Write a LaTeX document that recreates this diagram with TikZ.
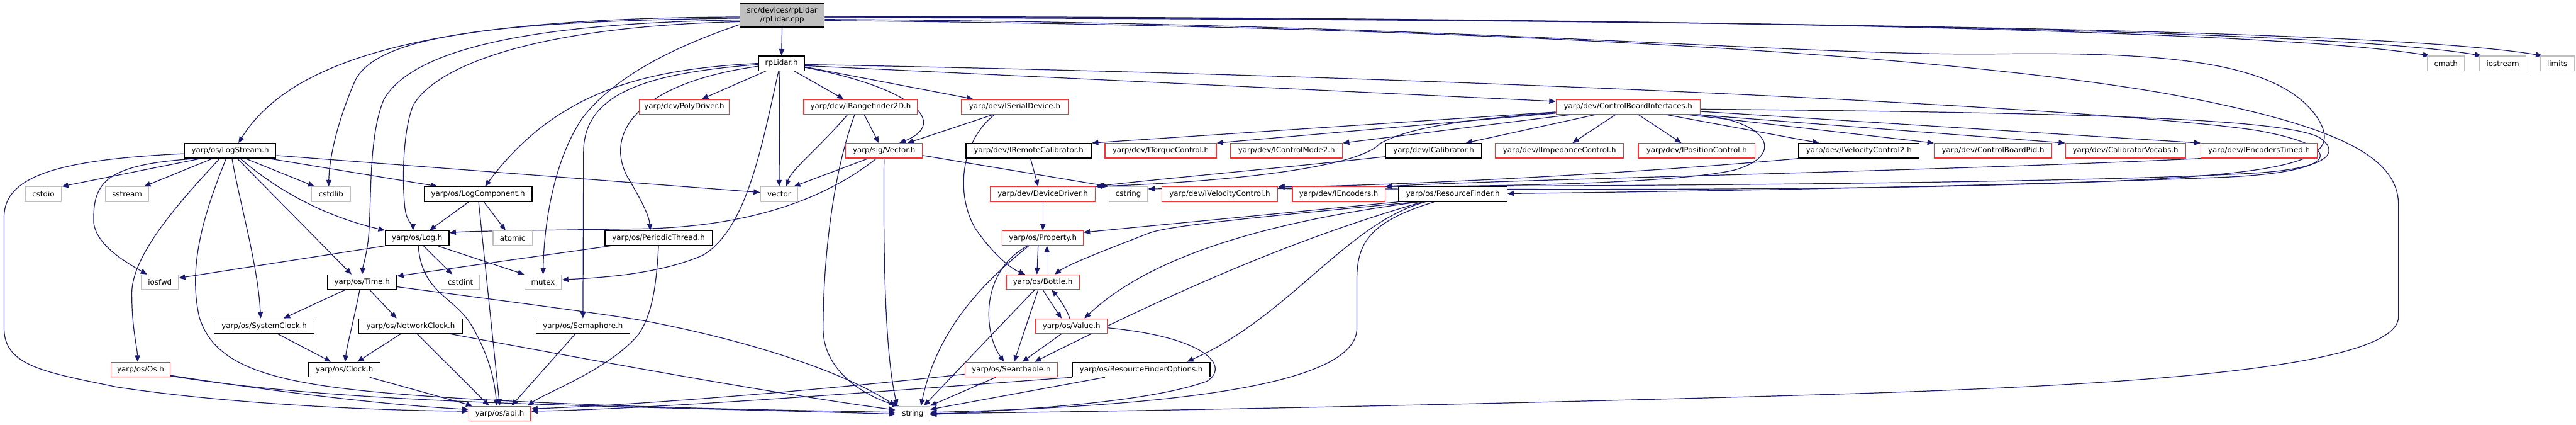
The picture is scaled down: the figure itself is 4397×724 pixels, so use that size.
\documentclass[tikz,border=0pt]{standalone}
\usepackage{fontspec}
\newfontfamily\dxfont{DejaVu Sans}
\usetikzlibrary{arrows.meta,backgrounds}
\definecolor{eblue}{HTML}{191970}
\definecolor{dred}{HTML}{FF3030}
\definecolor{dgray}{HTML}{BFBFBF}
\begin{document}
\begin{tikzpicture}[x=1pt,y=-1pt,
  nd/.style={draw, fill=white, line width=1.3pt, minimum height=25pt, inner sep=0pt,
     font=\dxfont\fontsize{12.7}{15}\selectfont},
  blk/.style={nd, draw=black, line width=1.5pt},
  rd/.style={nd, draw=dred},
  sys/.style={nd, draw=dgray},
  conn/.style={draw=eblue, line width=1.3pt, -{Triangle[length=11pt,width=9pt]}}]
\useasboundingbox (0,0) rectangle (4397,724);
% nodes
\node[blk, fill=dgray, minimum width=144pt, minimum height=40pt, align=center] (root) at (1335,26) {src/devices/rpLidar\\/rpLidar.cpp};
\node[blk, minimum width=79pt] (rplh) at (1334,108) {rpLidar.h};
\node[sys, minimum width=63pt] (cmath) at (4175,108) {cmath};
\node[sys, minimum width=80pt] (iostream) at (4272,108) {iostream};
\node[sys, minimum width=58pt] (limits) at (4365,108) {limits};
\node[rd, minimum width=154pt] (poly) at (1168,182) {yarp/dev/PolyDriver.h};
\node[rd, minimum width=194pt] (rng) at (1469,182) {yarp/dev/IRangefinder2D.h};
\node[rd, minimum width=182pt] (serial) at (1732,182) {yarp/dev/ISerialDevice.h};
\node[rd, minimum width=246pt] (cbi) at (2779,182) {yarp/dev/ControlBoardInterfaces.h};
\node[blk, minimum width=156pt] (logstream) at (393,257) {yarp/os/LogStream.h};
\node[rd, minimum width=131pt] (vec) at (1509,257) {yarp/sig/Vector.h};
\node[blk, minimum width=214pt] (remcal) at (1756,257) {yarp/dev/IRemoteCalibrator.h};
\node[rd, minimum width=190pt] (torque) at (1981,257) {yarp/dev/ITorqueControl.h};
\node[rd, minimum width=191pt] (cmode) at (2196,257) {yarp/dev/IControlMode2.h};
\node[blk, minimum width=163pt] (calib) at (2447,257) {yarp/dev/ICalibrator.h};
\node[rd, minimum width=219pt] (imped) at (2662,257) {yarp/dev/IImpedanceControl.h};
\node[rd, minimum width=199pt] (posc) at (2896,257) {yarp/dev/IPositionControl.h};
\node[blk, minimum width=206pt] (vel2) at (3173,257) {yarp/dev/IVelocityControl2.h};
\node[rd, minimum width=201pt] (pid) at (3402,257) {yarp/dev/ControlBoardPid.h};
\node[rd, minimum width=205pt] (vocabs) at (3628,257) {yarp/dev/CalibratorVocabs.h};
\node[rd, minimum width=198pt] (enct) at (3856,257) {yarp/dev/IEncodersTimed.h};
\node[sys, minimum width=62pt] (cstdio) at (74,331) {cstdio};
\node[sys, minimum width=74pt] (sstream) at (217,331) {sstream};
\node[sys, minimum width=66pt] (cstdlib) at (565,331) {cstdlib};
\node[blk, minimum width=184pt] (logcomp) at (816,331) {yarp/os/LogComponent.h};
\node[sys, minimum width=64pt] (vector) at (1330,331) {vector};
\node[rd, minimum width=179pt] (devdrv) at (1780,331) {yarp/dev/DeviceDriver.h};
\node[sys, minimum width=66pt] (cstring) at (1926,331) {cstring};
\node[rd, minimum width=198pt] (velc) at (2082,331) {yarp/dev/IVelocityControl.h};
\node[rd, minimum width=158pt] (enc) at (2285,331) {yarp/dev/IEncoders.h};
\node[blk, minimum width=185pt] (rf) at (2480,331) {yarp/os/ResourceFinder.h};
\node[blk, minimum width=109pt] (log) at (712,406) {yarp/os/Log.h};
\node[sys, minimum width=67pt] (atomic) at (875,406) {atomic};
\node[blk, minimum width=183pt] (pthread) at (1124,406) {yarp/os/PeriodicThread.h};
\node[rd, minimum width=138pt] (prop) at (1780,406) {yarp/os/Property.h};
\node[sys, minimum width=63pt] (iosfwd) at (273,481) {iosfwd};
\node[blk, minimum width=118pt] (time) at (618,481) {yarp/os/Time.h};
\node[sys, minimum width=66pt] (cstdint) at (786,481) {cstdint};
\node[sys, minimum width=63pt] (mutex) at (927,481) {mutex};
\node[rd, minimum width=125pt] (bottle) at (1780,481) {yarp/os/Bottle.h};
\node[blk, minimum width=171pt] (sysclk) at (451,556) {yarp/os/SystemClock.h};
\node[blk, minimum width=177pt] (netclk) at (701,556) {yarp/os/NetworkClock.h};
\node[blk, minimum width=160pt] (sema) at (995,556) {yarp/os/Semaphore.h};
\node[rd, minimum width=122pt] (value) at (1829,556) {yarp/os/Value.h};
\node[rd, minimum width=101pt] (os) at (240,630) {yarp/os/Os.h};
\node[blk, minimum width=122pt] (clock) at (588,630) {yarp/os/Clock.h};
\node[rd, minimum width=158pt] (search) at (1726,630) {yarp/os/Searchable.h};
\node[blk, minimum width=235pt] (rfo) at (1948,630) {yarp/os/ResourceFinderOptions.h};
\node[rd, minimum width=106pt] (api) at (853,705) {yarp/os/api.h};
\node[sys, minimum width=58pt] (string) at (1558,705) {string};
\begin{scope}[on background layer]
\fill[white] (0,0) rectangle (4397,724);
% root
\draw[conn] (root.south) -- (rplh.north);
\draw[conn] ([yshift=-3pt]root.west) .. controls (750,30) and (500,95) .. ([xshift=14pt]logstream.north);
\draw[conn] ([yshift=-5pt]root.west) .. controls (850,36) and (640,60) .. (605,140) .. controls (575,210) and (562,270) .. ([xshift=-4pt]cstdlib.north);
\draw[conn] ([yshift=-8pt]root.west) .. controls (880,40) and (700,90) .. (655,170) .. controls (630,230) and (634,330) .. (630,390) .. controls (628,430) and (620,450) .. (time.north);
\draw[conn] ([yshift=-11pt]root.west) .. controls (920,45) and (745,110) .. (705,180) .. controls (685,230) and (687,330) .. (692,360) .. controls (696,380) and (705,385) .. ([xshift=-7pt]log.north);
\draw[conn] ([yshift=-16pt]root.west) .. controls (1150,80) and (1050,130) .. (995,200) .. controls (940,280) and (928,400) .. (mutex.north);
\draw[conn] ([yshift=-2pt]root.east) .. controls (3000,30) and (3900,55) .. ([xshift=4pt]cmath.north west);
\draw[conn] ([yshift=-3pt]root.east) .. controls (3100,32) and (4000,55) .. ([xshift=4pt]iostream.north west);
\draw[conn] ([yshift=-4pt]root.east) .. controls (3200,34) and (4100,55) .. ([xshift=4pt]limits.north west);
\draw[conn] ([yshift=-7pt]root.east) .. controls (2500,40) and (3050,95) .. (3400,92) .. controls (3700,88) and (3890,105) .. (3955,200) .. controls (4010,285) and (3900,305) .. (3300,318) .. controls (2800,327) and (2300,320) .. (cstring.15);
\draw[conn] ([yshift=-9pt]root.east) .. controls (2500,45) and (3300,90) .. (3700,160) .. controls (4000,215) and (4094,270) .. (4094,350) -- (4094,540) .. controls (4094,640) and (3500,662) .. (3000,676) .. controls (2500,690) and (1900,702) .. (string.east);
% rpLidar.h
\draw[conn] (rplh.west) .. controls (1100,118) and (950,155) .. ([xshift=12pt]logcomp.north);
\draw[conn] ([yshift=-2pt]rplh.west) .. controls (1100,125) and (996,160) .. (996,260) -- (sema.north);
\draw[conn] ([yshift=-5pt]rplh.west) .. controls (1100,140) and (1030,220) .. (1070,300) .. controls (1100,350) and (1108,370) .. ([xshift=-14pt]pthread.north);
\draw[conn] ([xshift=-27pt]rplh.south) -- ([xshift=30pt]poly.north);
\draw[conn] ([xshift=-3pt]rplh.south) -- (vector.north);
\draw[conn] ([xshift=-5pt]rplh.south) .. controls (1300,250) and (1275,390) .. (1200,435) .. controls (1120,470) and (1010,474) .. ([yshift=4pt]mutex.east);
\draw[conn] ([xshift=22pt]rplh.south) -- ([xshift=-29pt]rng.north);
\draw[conn] ([yshift=-7pt]rplh.east) .. controls (1560,150) and (1620,210) .. ([xshift=26pt]vec.north);
\draw[conn] ([yshift=-6pt]rplh.east) -- ([xshift=-71pt]serial.north);
\draw[conn] ([yshift=-4pt]rplh.east) -- ([yshift=-4pt]cbi.north west);
\draw[conn] ([yshift=-2pt]rplh.east) .. controls (2500,130) and (3600,185) .. (3850,222) .. controls (4000,248) and (4010,292) .. (3800,302) .. controls (3400,318) and (2900,326) .. ([yshift=1pt]rf.east);
% IRangefinder2D
\draw[conn] ([xshift=-22pt]rng.south) .. controls (1400,250) and (1350,290) .. ([xshift=12pt]vector.north);
\draw[conn] ([xshift=-10pt]rng.south) .. controls (1420,300) and (1405,450) .. (1405,560) .. controls (1405,640) and (1490,680) .. ([xshift=6pt]string.north west);
\draw[conn] ([xshift=6pt]rng.south) -- ([xshift=-9pt]vec.north);
% ISerialDevice
\draw[conn] ([xshift=-36pt]serial.south) -- ([xshift=40pt]vec.north);
\draw[conn] ([xshift=-34pt]serial.south) .. controls (1640,240) and (1630,330) .. (1665,390) .. controls (1700,440) and (1730,460) .. ([xshift=-30pt]bottle.north);
% Vector.h
\draw[conn] ([xshift=-27pt]vec.south) -- ([xshift=25pt]vector.north);
\draw[conn] ([xshift=-13pt]vec.south) .. controls (1420,330) and (1300,385) .. (1100,390) .. controls (900,393) and (800,394) .. ([yshift=9pt]log.east);
\draw[conn] (vec.south) .. controls (1507,500) and (1515,620) .. ([xshift=3pt]string.north west);
\draw[conn] ([yshift=-8pt]vec.east) -- (cstring.north west);
% calibrators
\draw[conn] ([xshift=3pt]remcal.south) -- ([xshift=-8pt]devdrv.north);
\draw[conn] ([yshift=-10pt]calib.west) .. controls (2200,285) and (1950,308) .. (devdrv.north east);
% ControlBoardInterfaces
\draw[conn] ([yshift=-10pt]cbi.west) .. controls (2480,205) and (2400,220) .. (2355,245) .. controls (2320,285) and (2100,310) .. (devdrv.north east);
\draw[conn] ([yshift=-9pt]cbi.west) -- (remcal.north east);
\draw[conn] ([yshift=-11pt]cbi.west) -- (torque.north east);
\draw[conn] ([xshift=28pt]cbi.south west) -- (cmode.north east);
\draw[conn] ([xshift=-54pt]cbi.south) -- ([xshift=55pt]calib.north);
\draw[conn] ([xshift=-21pt]cbi.south) -- ([xshift=22pt]imped.north);
\draw[conn] ([xshift=17pt]cbi.south) -- ([xshift=-26pt]posc.north);
\draw[conn] ([xshift=63pt]cbi.south) -- ([xshift=-68pt]vel2.north);
\draw[conn] ([xshift=98pt]cbi.south) -- (pid.north west);
\draw[conn] ([xshift=-11pt]cbi.south east) -- (vocabs.north west);
\draw[conn] ([yshift=-8pt]cbi.east) -- (enct.north west);
\draw[conn] ([yshift=-4pt]cbi.east) .. controls (3500,192) and (3900,200) .. (3960,235) .. controls (3995,260) and (3975,287) .. (3850,295) .. controls (3600,310) and (2900,318) .. (velc.north east);
\draw[conn] ([xshift=116pt]cbi.south) .. controls (3020,205) and (3050,265) .. (2960,290) .. controls (2850,315) and (2500,318) .. (enc.north east);
\draw[conn] (vel2.south west) .. controls (2800,295) and (2400,316) .. ([yshift=-1pt]velc.north east);
\draw[conn] (enct.south west) .. controls (3300,292) and (2600,305) .. (enc.north east);
% ResourceFinder
\draw[conn] (rf.south west) -- (prop.8);
\draw[conn] ([xshift=-63pt]rf.south) .. controls (2150,370) and (1990,385) .. (1960,398) .. controls (1890,425) and (1825,450) .. ([xshift=20pt]bottle.north);
\draw[conn] ([xshift=-58pt]rf.south) .. controls (2150,380) and (1960,440) .. ([xshift=22pt]value.north);
\draw[conn] ([xshift=-52pt]rf.south) .. controls (2200,410) and (2000,500) .. ([xshift=40pt]search.north);
\draw[conn] ([xshift=-47pt]rf.south) .. controls (2300,380) and (2200,540) .. ([xshift=78pt]rfo.north);
\draw[conn] ([xshift=-32pt]rf.south) .. controls (2330,380) and (2316,420) .. (2316,480) -- (2316,560) .. controls (2316,640) and (2100,690) .. ([yshift=2pt]string.east);
% DeviceDriver
\draw[conn] (devdrv.south) -- (prop.north);
% Property
\draw[conn] ([xshift=-8pt]prop.south) -- ([xshift=-10pt]bottle.north);
\draw[conn] ([xshift=7pt]bottle.north) -- ([xshift=7pt]prop.south);
\draw[conn] ([xshift=-24pt]prop.south) .. controls (1680,480) and (1600,560) .. ([xshift=14pt]string.north);
\draw[conn] ([xshift=-26pt]prop.south) .. controls (1670,465) and (1680,570) .. ([xshift=-12pt]search.north);
% Bottle
\draw[conn] (bottle.south) .. controls (1790,510) and (1800,525) .. ([xshift=-17pt]value.north);
\draw[conn] ([xshift=-3pt]value.north) .. controls (1820,525) and (1805,505) .. ([xshift=15pt]bottle.south);
\draw[conn] ([xshift=-8pt]bottle.south) -- ([xshift=5pt]search.north);
\draw[conn] ([xshift=-14pt]bottle.south) -- ([xshift=19pt]string.north);
% Value
\draw[conn] ([xshift=-17pt]value.south) -- ([xshift=19pt]search.north);
\draw[conn] ([yshift=-3pt]value.east) .. controls (2060,575) and (2100,625) .. (2060,650) .. controls (1950,690) and (1700,700) .. ([yshift=-2pt]string.east);
% Searchable
\draw[conn] ([xshift=-26pt]search.south) -- (string.north east);
\draw[conn] ([yshift=-8pt]search.west) .. controls (1400,665) and (1100,690) .. ([yshift=8pt]api.east);
% ResourceFinderOptions
\draw[conn] ([xshift=-62pt]rfo.south) -- ([yshift=7pt]string.east);
\draw[conn] (rfo.south west) .. controls (1500,668) and (1100,698) .. ([yshift=4pt]api.east);
% LogStream
\draw[conn] ([yshift=-5pt]logstream.west) .. controls (100,272) and (7,300) .. (7,370) -- (7,560) .. controls (7,625) and (80,635) .. (200,660) .. controls (400,690) and (650,700) .. ([yshift=4pt]api.west);
\draw[conn] ([xshift=-56pt]logstream.south) .. controls (180,280) and (158,310) .. (160,380) .. controls (165,420) and (220,450) .. ([xshift=-22pt]iosfwd.north);
\draw[conn] ([xshift=-50pt]logstream.south) -- (cstdio.north east);
\draw[conn] ([xshift=-30pt]logstream.south) -- ([xshift=29pt]sstream.north);
\draw[conn] ([xshift=-18pt]logstream.south) .. controls (320,330) and (225,430) .. (225,500) .. controls (225,560) and (234,590) .. ([xshift=-5pt]os.north);
\draw[conn] ([xshift=-7pt]logstream.south) .. controls (350,360) and (320,450) .. (340,540) .. controls (370,640) and (500,662) .. (800,680) .. controls (1100,697) and (1400,700) .. ([yshift=2pt]string.west);
\draw[conn] ([xshift=3pt]logstream.south) .. controls (410,350) and (440,450) .. ([xshift=-6pt]sysclk.north);
\draw[conn] ([xshift=12pt]logstream.south) -- ([xshift=-18pt]time.north);
\draw[conn] ([xshift=17pt]logstream.south) .. controls (480,330) and (560,370) .. (log.north west);
\draw[conn] ([xshift=26pt]logstream.south) -- ([xshift=-28pt]cstdlib.north);
\draw[conn] ([xshift=66pt]logstream.south) -- ([xshift=-69pt]logcomp.north);
\draw[conn] ([yshift=-8pt]logstream.east) -- ([yshift=3pt]vector.west);
% LogComponent
\draw[conn] ([xshift=-16pt]logcomp.south) -- ([xshift=21pt]log.north);
\draw[conn] ([xshift=1pt]logcomp.south) -- (api.north);
\draw[conn] ([xshift=10pt]logcomp.south) -- ([xshift=-12pt]atomic.north);
% Log
\draw[conn] (log.south west) -- ([yshift=7pt]iosfwd.east);
\draw[conn] ([xshift=2pt]log.south) .. controls (720,500) and (775,505) .. (805,555) .. controls (840,615) and (845,660) .. ([xshift=-5pt]api.north);
\draw[conn] ([xshift=11pt]log.south) -- ([xshift=-14pt]cstdint.north);
\draw[conn] ([xshift=35pt]log.south) -- (mutex.north west);
% PeriodicThread
\draw[conn] ([xshift=-82pt]pthread.south) -- ([yshift=-3pt]time.north east);
\draw[conn] (pthread.south) .. controls (1120,500) and (1110,540) .. (1090,570) .. controls (1040,630) and (930,670) .. ([xshift=-6pt]api.north east);
% Time
\draw[conn] ([xshift=-29pt]time.south) -- ([xshift=33pt]sysclk.north);
\draw[conn] ([xshift=-4pt]time.south) .. controls (603,550) and (592,590) .. ([xshift=1pt]clock.north);
\draw[conn] ([xshift=13pt]time.south) -- ([xshift=-24pt]netclk.north);
\draw[conn] ([yshift=-8pt]time.east) .. controls (900,518) and (1050,538) .. (1100,547) .. controls (1300,585) and (1450,640) .. (string.north west);
% clocks
\draw[conn] ([xshift=23pt]sysclk.south) -- ([xshift=-23pt]clock.north);
\draw[conn] ([xshift=-17pt]netclk.south) -- ([xshift=22pt]clock.north);
\draw[conn] ([xshift=11pt]netclk.south) -- ([xshift=-18pt]api.north);
\draw[conn] ([xshift=67pt]netclk.south) .. controls (1000,612) and (1300,668) .. ([yshift=6pt]string.west);
\draw[conn] ([xshift=-13pt]sema.south) -- ([xshift=20pt]api.north);
\draw[conn] ([xshift=43pt]clock.south) -- ([xshift=7pt]api.north west);
% Os
\draw[conn] ([yshift=-10pt]os.east) .. controls (450,665) and (650,690) .. ([yshift=7pt]api.west);
\draw[conn] ([yshift=-11pt]os.east) .. controls (600,690) and (1000,690) .. ([yshift=-1pt]string.west);
\end{scope}
\end{tikzpicture}
\end{document}
